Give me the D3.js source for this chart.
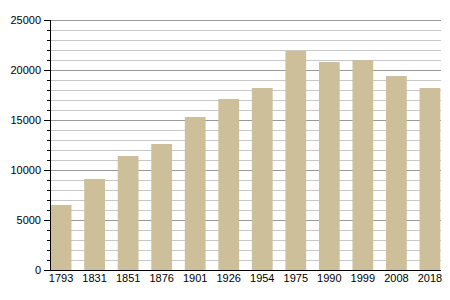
<!DOCTYPE html>
<html><head><meta charset="utf-8">
<script src="https://cdn.jsdelivr.net/npm/d3@7"></script>
<style>body{margin:0;background:#fff}svg{display:block}</style>
</head><body>
<script>
const years = ["1793","1831","1851","1876","1901","1926","1954","1975","1990","1999","2008","2018"];
const population = [6500,9100,11400,12600,15300,17100,18200,21900,20800,21000,19400,18200];
const majorTicks = [0,5000,10000,15000,20000,25000];
const minorStep = 1000;

const W=450,H=300, m={l:50,r:9,t:20,b:30};
const svg=d3.select("body").append("svg").attr("width",W).attr("height",H);
const x=d3.scaleBand().domain(years).range([m.l,W-m.r]).paddingInner(0.38).paddingOuter(0.02);
const y=d3.scaleLinear().domain([0,25000]).range([H-m.b,m.t]);
const minor=d3.range(0,25001,minorStep).filter(v=>v%5000!==0);

// gridlines
svg.append("g").selectAll("line").data(minor).join("line")
 .attr("x1",m.l).attr("x2",W-m.r).attr("y1",d=>Math.round(y(d))+0.5).attr("y2",d=>Math.round(y(d))+0.5)
 .attr("stroke","#c8c8c8").attr("stroke-width",1);
svg.append("g").selectAll("line").data(majorTicks.filter(d=>d>0)).join("line")
 .attr("x1",m.l).attr("x2",W-m.r).attr("y1",d=>Math.round(y(d))+0.5).attr("y2",d=>Math.round(y(d))+0.5)
 .attr("stroke","#999").attr("stroke-width",1);

// bars
svg.append("g").selectAll("rect").data(years).join("rect")
 .attr("x",d=>x(d)).attr("width",x.bandwidth())
 .attr("y",(d,i)=>y(population[i])).attr("height",(d,i)=>y(0)-y(population[i]))
 .attr("fill","#cdbf9a");

// y axis
const yg=svg.append("g");
yg.append("line").attr("x1",m.l+0.5).attr("x2",m.l+0.5).attr("y1",m.t).attr("y2",H-m.b).attr("stroke","#000");
yg.selectAll(".mt").data(minor).join("line").attr("x1",m.l-3).attr("x2",m.l)
 .attr("y1",d=>Math.round(y(d))+0.5).attr("y2",d=>Math.round(y(d))+0.5).attr("stroke","#000");
yg.selectAll(".Mt").data(majorTicks).join("line").attr("x1",m.l-6).attr("x2",m.l)
 .attr("y1",d=>Math.round(y(d))+0.5).attr("y2",d=>Math.round(y(d))+0.5).attr("stroke","#000");
yg.selectAll("text").data(majorTicks).join("text")
 .attr("x",m.l-9).attr("y",d=>y(d)).attr("dy","0.35em").attr("text-anchor","end")
 .attr("font-family","Liberation Sans, Arial, sans-serif").attr("font-size",11).attr("fill","#000")
 .text(d=>d);

// x axis
svg.append("line").attr("x1",m.l).attr("x2",W-m.r).attr("y1",H-m.b+0.5).attr("y2",H-m.b+0.5).attr("stroke","#000");
svg.append("g").selectAll("text").data(years).join("text")
 .attr("x",d=>x(d)+x.bandwidth()/2).attr("y",H-m.b+12).attr("text-anchor","middle")
 .attr("font-family","Liberation Sans, Arial, sans-serif").attr("font-size",11).attr("fill","#000")
 .text(d=>d);
</script>
</body></html>
